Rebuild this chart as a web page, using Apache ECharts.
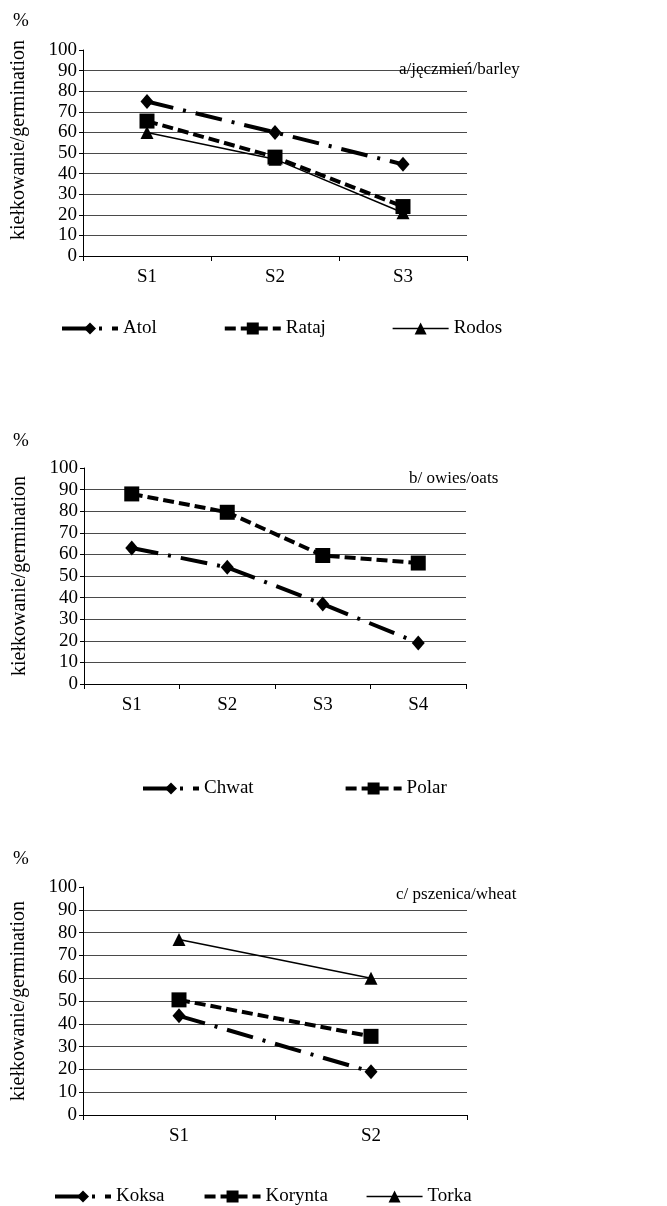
<!DOCTYPE html>
<html>
<head>
<meta charset="utf-8">
<script src="https://cdn.jsdelivr.net/npm/echarts@6/dist/echarts.min.js"></script>
<style>
  html, body { margin: 0; padding: 0; background: #fff; }
  #chart { width: 667px; height: 1206px; }
</style>
</head>
<body>
<div id="chart"></div>
<script>
// panel a - barley
var catsA = ['S1', 'S2', 'S3'];
var atol = [75, 60, 44.5];
var rataj = [65.5, 48, 24];
var rodos = [60, 47, 21];
// panel b - oats
var catsB = ['S1', 'S2', 'S3', 'S4'];
var chwat = [63, 54, 37, 19];
var polar = [88, 79.5, 59.5, 56];
// panel c - wheat
var catsC = ['S1', 'S2'];
var koksa = [43.5, 19];
var korynta = [50.5, 34.5];
var torka = [77, 60];

var yTicks = [0, 10, 20, 30, 40, 50, 60, 70, 80, 90, 100];

var FONT = '"Liberation Serif", "Times New Roman", serif';
var grids = [
  { left: 83, top: 50, width: 384, height: 206 },
  { left: 84, top: 468, width: 382, height: 216 },
  { left: 83, top: 887, width: 384, height: 228 }
];

// line looks
var dashDot = { color: '#000', width: 4, type: [27, 10, 3, 10] };
var shortDash = { color: '#000', width: 4, type: [11, 5] };
var thinSolid = { color: '#000', width: 1.5, type: 'solid' };

function xAx(i, cats) {
  return {
    gridIndex: i, type: 'category', data: cats,
    axisLine: { lineStyle: { color: '#000', width: 1 } },
    axisTick: { show: true, length: 5, lineStyle: { color: '#000' } },
    axisLabel: { color: '#000', fontFamily: FONT, fontSize: 19, margin: 12 },
    splitLine: { show: false }
  };
}
function yAx(i, namePad) {
  return {
    gridIndex: i, type: 'value', min: 0, max: 100, interval: 10,
    name: 'kiełkowanie/germination', nameLocation: 'middle', nameGap: 54,
    nameTextStyle: { color: '#000', fontFamily: FONT, fontSize: 20, padding: namePad },
    axisLine: { show: true, lineStyle: { color: '#000', width: 1 } },
    axisTick: { show: true, length: 4, lineStyle: { color: '#000' } },
    axisLabel: { color: '#000', fontFamily: FONT, fontSize: 19, margin: 6,
      formatter: function (v) { return yTicks.indexOf(v) >= 0 ? String(v) : ''; } },
    splitLine: { show: true, showMinLine: false, showMaxLine: false, lineStyle: { color: '#4a4a4a', width: 1 } }
  };
}
function ser(name, i, data, ls, sym, size) {
  return {
    name: name, type: 'line', xAxisIndex: i, yAxisIndex: i, data: data,
    symbol: sym, symbolSize: size, showAllSymbol: true,
    lineStyle: ls, itemStyle: { color: '#000' }, animation: false
  };
}
function label(text, left, top, size) {
  return { text: text, left: left, top: top, padding: 0,
    textStyle: { color: '#000', fontFamily: FONT, fontSize: size, fontWeight: 'normal' } };
}
function leg(items, left, top, gap) {
  return {
    data: items, left: left, top: top, itemGap: gap, itemWidth: 56, itemHeight: 15,
    textStyle: { color: '#000', fontFamily: FONT, fontSize: 19 }
  };
}
function li(name, ls) {
  return { name: name, lineStyle: { width: ls.width, type: ls.type, color: '#000' } };
}

var chart = echarts.init(document.getElementById('chart'));
chart.setOption({
  backgroundColor: '#fff',
  animation: false,
  title: [
    label('%', 13, 12, 19), label('a/jęczmień/barley', 399, 61, 17),
    label('%', 13, 432, 19), label('b/ owies/oats', 409, 470, 17),
    label('%', 13, 850, 19), label('c/ pszenica/wheat', 396, 886, 17)
  ],
  legend: [
    leg([li('Atol', dashDot), li('Rataj', shortDash), li('Rodos', thinSolid)], 55, 314, 66),
    leg([li('Chwat', dashDot), li('Polar', shortDash)], 136, 774, 90),
    leg([li('Koksa', dashDot), li('Korynta', shortDash), li('Torka', thinSolid)], 48, 1182, 38)
  ],
  grid: grids,
  xAxis: [xAx(0, catsA), xAx(1, catsB), xAx(2, catsC)],
  yAxis: [yAx(0, [0, 0, 0, 26]), yAx(1, 0), yAx(2, 0)],
  series: [
    ser('Rodos', 0, rodos, thinSolid, 'triangle', 13),
    ser('Atol', 0, atol, dashDot, 'diamond', [13, 15]),
    ser('Rataj', 0, rataj, shortDash, 'rect', 15),
    ser('Chwat', 1, chwat, dashDot, 'diamond', [13, 15]),
    ser('Polar', 1, polar, shortDash, 'rect', 15),
    ser('Torka', 2, torka, thinSolid, 'triangle', 13),
    ser('Koksa', 2, koksa, dashDot, 'diamond', [13, 15]),
    ser('Korynta', 2, korynta, shortDash, 'rect', 15)
  ]
});
</script>
</body>
</html>
